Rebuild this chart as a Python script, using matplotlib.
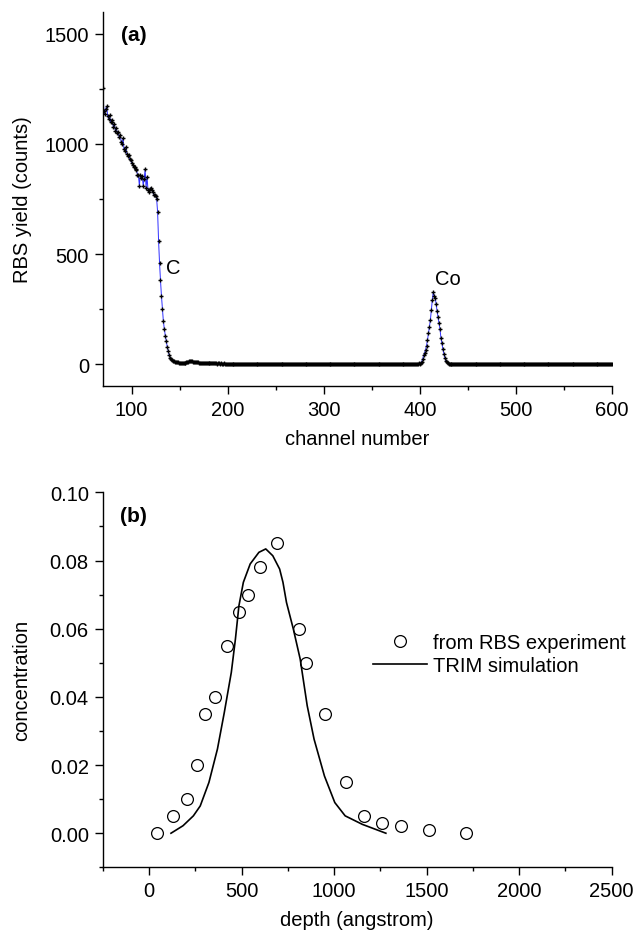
import matplotlib
matplotlib.use("Agg")
import matplotlib.pyplot as plt
from matplotlib.ticker import MultipleLocator, FormatStrFormatter
import numpy as np

plt.rcParams['font.family'] = ['Liberation Sans', 'DejaVu Sans']

# ---- panel (a): RBS spectrum, one value per channel 70..600 ----
counts_edge = [1255, 1150, 1135, 1160, 1170, 1125, 1115, 1130, 1100, 1110, 1100, 1075, 1090, 1060, 1070, 1050, 1055, 1030, 1040, 1010,   # 70-89
               1000, 1025, 975, 968, 985, 955, 946, 950, 930, 925, 915, 905, 895, 893, 880, 885, 860, 858, 810, 860,   # 90-109
               845, 855, 810, 840, 885, 800, 850, 790, 780, 795, 800, 790, 780, 770, 770, 765, 750, 690, 560, 460,   # 110-129
               380, 310, 250, 195, 160, 130, 105, 80, 60, 42, 30, 22, 17, 14, 13]   # 130-144
counts_tail = [12, 10, 9, 8, 7, 6, 6, 5, 6, 5, 6, 7, 8, 10, 12, 14, 15, 14, 13, 12,   # 145-164
               11, 10, 9, 8, 8, 7, 7, 6, 6, 6, 5, 5, 6, 5, 5, 4, 5, 4, 5, 4,   # 165-184
               4, 4, 5, 4, 3, 4, 4, 3, 4, 3, 3, 4, 3, 3, 3]   # 185-199
counts_flat = [3, 2, 3, 2, 2, 3, 2, 2, 2, 3, 2, 2, 2, 2, 3, 2, 2, 2, 2, 2,   # 200-219
               2, 2, 2, 3, 2, 2, 2, 2, 2, 2, 2, 1, 2, 2, 2, 2, 2, 2, 1, 2,
               2, 2, 1, 2, 2, 2, 2, 1, 2, 2, 2, 2, 1, 2, 2, 1, 2, 2, 2, 1,
               2, 2, 1, 2, 1, 2, 2, 1, 2, 1, 2, 2, 1, 2, 1, 1, 2, 1, 2, 1,
               1, 2, 1, 1, 2, 1, 1, 2, 1, 1, 1, 2, 1, 1, 1, 2, 1, 1, 1, 1,
               2, 1, 1, 1, 1, 2, 1, 1, 1, 1, 1, 2, 1, 1, 1, 1, 1, 1, 2, 1,
               1, 1, 1, 1, 2, 1, 1, 1, 1, 1, 1, 1, 2, 1, 1, 1, 1, 1, 1, 1,
               1, 2, 1, 1, 1, 1, 1, 1, 1, 2, 1, 1, 1, 1, 1, 1, 1, 1, 2, 1,
               1, 1, 1, 1, 1, 2, 1, 1, 1, 1, 1, 1, 1, 2, 1, 1, 1, 1, 1, 2,
               1, 1, 2, 1, 1, 1, 2, 1, 1, 2, 1, 2, 1, 2, 2, 2, 3, 2, 3, 4]   # 380-399
counts_co = [3, 6, 12, 24, 40, 52, 66, 84, 110, 140, 170, 200, 245, 290, 326, 310,
             300, 275, 240, 213, 185, 160, 120, 95, 70, 48, 30, 16, 9, 5, 3, 2]   # 400-431
counts_end = [2, 1, 1, 1, 1, 1, 1, 0, 1, 1, 1, 0, 1, 1, 0, 1, 1, 0, 1, 1,   # 432-451
              0, 1, 1, 0, 1, 0, 1, 1, 0, 1, 0, 1, 0, 1, 1, 0, 1, 0, 1, 0,
              1, 0, 1, 1, 0, 1, 0, 1, 0, 0, 1, 0, 1, 0, 1, 0, 1, 1, 0, 1,
              0, 1, 0, 1, 0, 0, 1, 0, 1, 0, 1, 0, 0, 1, 0, 1, 0, 1, 0, 0,
              1, 0, 1, 0, 1, 0, 0, 1, 0, 1, 0, 1, 0, 0, 1, 0, 1, 0, 1, 0,
              0, 1, 0, 1, 0, 1, 0, 0, 1, 0, 1, 0, 1, 0, 0, 1, 0, 1, 0, 1,
              0, 0, 1, 0, 1, 0, 1, 0, 0, 1, 0, 1, 0, 1, 0, 0, 1, 0, 1, 0,
              1, 0, 0, 1, 0, 1, 0, 1, 0, 0, 1, 0, 1, 0, 1, 0, 0, 1, 0, 1,
              0, 1, 0, 0, 1, 0, 1, 0, 1]   # 592-600
channels = np.arange(70, 601)
counts = np.array(counts_edge + counts_tail + counts_flat + counts_co + counts_end)

# ---- panel (b): Co depth profile ----
rbs_depth = [41, 129, 207, 257, 305, 355, 420, 486, 536, 601, 691, 812, 851, 952, 1062, 1161, 1261, 1361, 1512, 1712]
rbs_conc = [0.000, 0.005, 0.010, 0.020, 0.035, 0.040, 0.055, 0.065, 0.070, 0.078, 0.085, 0.060,
            0.050, 0.035, 0.015, 0.005, 0.003, 0.002, 0.001, 0.000]
trim_depth = [119, 184, 240, 277, 324, 370, 407, 445, 467, 486, 510, 547, 594, 631, 669, 706, 724,
              743, 780, 817, 855, 892, 948, 1004, 1060, 1153, 1280]
trim_conc = [0.0, 0.0022, 0.0051, 0.0080, 0.0149, 0.0247, 0.0354, 0.0472, 0.0569, 0.0667, 0.0736,
             0.0790, 0.0824, 0.0834, 0.0814, 0.0775, 0.0736, 0.0677, 0.0599, 0.0511, 0.0374,
             0.0276, 0.0168, 0.0090, 0.0051, 0.0026, 0.0]

fig = plt.figure(figsize=(6.35, 9.37), dpi=100)
ax1 = fig.add_axes([0.1620, 0.5867, 0.8016, 0.3998])
ax2 = fig.add_axes([0.1617, 0.0733, 0.8016, 0.4002])

fs = 14.5
for ax in (ax1, ax2):
    ax.spines['top'].set_visible(False)
    ax.spines['right'].set_visible(False)
    for s in ('left', 'bottom'):
        ax.spines[s].set_linewidth(1.0)
    ax.tick_params(which='major', direction='out', length=6, width=1.0, labelsize=fs, pad=4)
    ax.tick_params(which='minor', direction='out', length=3, width=1.0)

ax1.plot(channels, counts, color='#3030ff', lw=0.7, zorder=2)
ax1.plot(channels, counts, ls='none', marker='+', ms=3.5, mew=1.0, color='black', zorder=3)
ax1.set_xlim(70, 600)
ax1.set_ylim(-100, 1600)
ax1.xaxis.set_major_locator(MultipleLocator(100))
ax1.xaxis.set_minor_locator(MultipleLocator(50))
ax1.yaxis.set_major_locator(MultipleLocator(500))
ax1.yaxis.set_minor_locator(MultipleLocator(250))
ax1.set_xlabel('channel number', fontsize=fs, labelpad=7)
ax1.set_ylabel('RBS yield (counts)', fontsize=fs)
ax1.yaxis.set_label_coords(-0.14, 0.5)
ax1.text(0.035, 0.94, '(a)', transform=ax1.transAxes, fontsize=15, fontweight='bold', va='center')
ax1.text(143, 440, 'C', fontsize=fs, ha='center', va='center')
ax1.text(429, 390, 'Co', fontsize=fs, ha='center', va='center')

ax2.plot(rbs_depth, rbs_conc, ls='none', marker='o', ms=8.5, mfc='none', mec='black', mew=0.9,
         label='from RBS experiment')
ax2.plot(trim_depth, trim_conc, color='black', lw=1.2, label='TRIM simulation')
ax2.set_xlim(-250, 2500)
ax2.set_ylim(-0.01, 0.10)
ax2.xaxis.set_major_locator(MultipleLocator(500))
ax2.xaxis.set_minor_locator(MultipleLocator(250))
ax2.yaxis.set_major_locator(MultipleLocator(0.02))
ax2.yaxis.set_minor_locator(MultipleLocator(0.01))
ax2.yaxis.set_major_formatter(FormatStrFormatter('%.2f'))
ax2.set_xlabel('depth (angstrom)', fontsize=fs, labelpad=7)
ax2.set_ylabel('concentration', fontsize=fs)
ax2.yaxis.set_label_coords(-0.14, 0.5)
ax2.text(0.035, 0.9376, '(b)', transform=ax2.transAxes, fontsize=15, fontweight='bold', va='center')
ax2.legend(loc='upper left', bbox_to_anchor=(0.532, 0.625), frameon=False, fontsize=fs,
           borderpad=0, borderaxespad=0, handlelength=2.67, handletextpad=0.3, labelspacing=0.22)

fig.savefig('out.png', dpi=100)
